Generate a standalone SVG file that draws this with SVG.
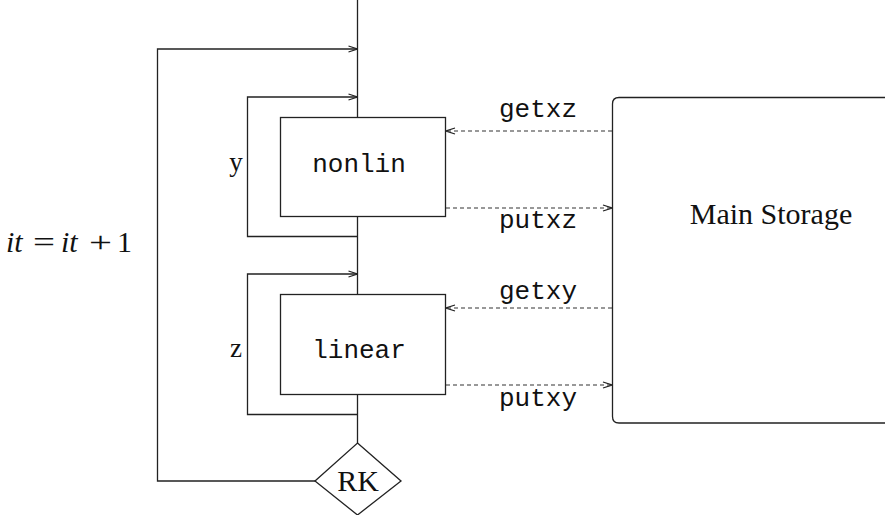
<svg xmlns="http://www.w3.org/2000/svg" width="885" height="515" viewBox="0 0 885 515">
  <defs>
    <marker id="arr" viewBox="0 0 10 10" refX="10" refY="5" markerWidth="10" markerHeight="10" markerUnits="userSpaceOnUse" orient="auto">
      <path d="M1,2 L10,5 L1,8" fill="none" stroke="#222" stroke-width="1.2"/>
    </marker>
  </defs>
  <style>
    .ln { fill: none; stroke: #222; stroke-width: 1.3; }
    .dash { fill: none; stroke: #333; stroke-width: 1.1; stroke-dasharray: 4 3; }
    .box { fill: #fff; stroke: #222; stroke-width: 1.3; }
    .mono { font-family: "Liberation Mono", "DejaVu Sans Mono", monospace; font-size: 26px; fill: #111; }
    .serif { font-family: "Liberation Serif", "DejaVu Serif", serif; fill: #111; }
  </style>

  <g id="connectors">
    <!-- main flow line -->
    <path class="ln" d="M357.5,0 V443"/>
    <!-- outer iteration loop -->
    <path class="ln" d="M315,481 H157.5 V49 H357.5" marker-end="url(#arr)"/>
    <!-- y loop -->
    <path class="ln" d="M357.5,236.5 H247.5 V97 H357.5" marker-end="url(#arr)"/>
    <!-- z loop -->
    <path class="ln" d="M357.5,414.5 H247.5 V274 H357.5" marker-end="url(#arr)"/>
    <!-- storage traffic -->
    <path class="dash" d="M612,131 H446" marker-end="url(#arr)"/>
    <path class="dash" d="M446,208 H612" marker-end="url(#arr)"/>
    <path class="dash" d="M612,308 H446" marker-end="url(#arr)"/>
    <path class="dash" d="M446,385 H612" marker-end="url(#arr)"/>
  </g>

  <g id="nonlin">
    <rect class="box" x="280.5" y="117.5" width="165" height="99"/>
    <text class="mono" x="359" y="172" text-anchor="middle">nonlin</text>
  </g>

  <g id="linear">
    <rect class="box" x="280.5" y="294.5" width="165" height="100"/>
    <text class="mono" x="359" y="358" text-anchor="middle">linear</text>
  </g>

  <g id="rk">
    <polygon class="box" points="357.5,443 401,481 357.5,515 315,481"/>
    <text class="serif" x="358" y="491" font-size="30" text-anchor="middle">RK</text>
  </g>

  <g id="main-storage">
    <path class="box" d="M890,97.5 H619 Q612.5,97.5 612.5,104 V416.5 Q612.5,423 619,423 H890"/>
    <text class="serif" x="771" y="224" font-size="30" text-anchor="middle">Main Storage</text>
  </g>

  <g id="labels">
    <text class="mono" x="538" y="117" text-anchor="middle">getxz</text>
    <text class="mono" x="538" y="228" text-anchor="middle">putxz</text>
    <text class="mono" x="538" y="299" text-anchor="middle">getxy</text>
    <text class="mono" x="538" y="406" text-anchor="middle">putxy</text>
    <text class="serif" x="236" y="171" font-size="27" text-anchor="middle">y</text>
    <text class="serif" x="236" y="357" font-size="27" text-anchor="middle">z</text>
    <g class="serif" font-size="30">
      <text x="6" y="252" font-style="italic">it</text>
      <text x="33" y="252" textLength="22" lengthAdjust="spacingAndGlyphs">=</text>
      <text x="61" y="252" font-style="italic">it</text>
      <text x="89" y="252" textLength="23" lengthAdjust="spacingAndGlyphs">+</text>
      <text x="117" y="252">1</text>
    </g>
  </g>
</svg>
